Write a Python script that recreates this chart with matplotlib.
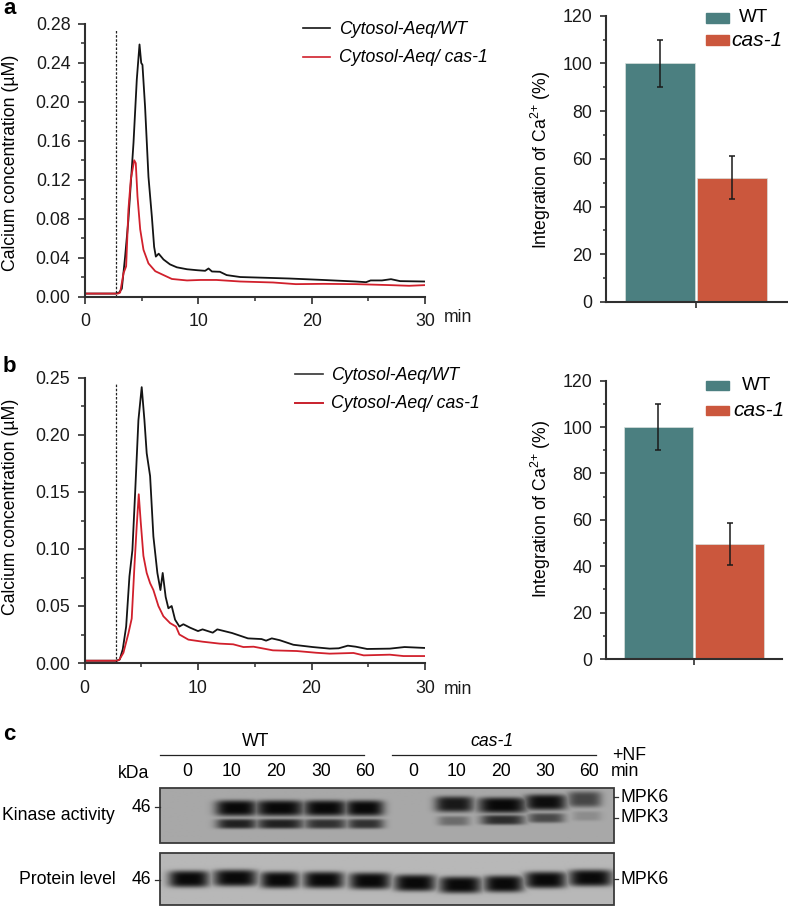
import numpy as np
import matplotlib
matplotlib.use("Agg")
import matplotlib.pyplot as plt
from matplotlib.patches import Rectangle

plt.rcParams["font.family"] = ["Liberation Sans", "DejaVu Sans"]
plt.rcParams["mathtext.fontset"] = "custom"
plt.rcParams["mathtext.rm"] = "Liberation Sans"
plt.rcParams["mathtext.it"] = "Liberation Sans:italic"
plt.rcParams["mathtext.default"] = "regular"

W, H = 788, 906
DARK = "#2f2f2f"
TEAL = "#4b7f80"
ORANGE = "#cb573d"
RED = "#d1202c"
BLACK = "#141414"

# panel a traces
a_wt_t = [0, 2.7, 3.0, 3.25, 3.54, 3.83, 4.28, 4.57, 4.81, 4.96, 5.07, 5.3, 5.6, 5.9, 6.1, 6.25, 6.5, 6.93,
          7.5, 8.1, 9.0, 9.9, 10.6, 10.9, 11.2, 11.9, 12.5, 13.7, 16.6, 18, 21, 23.9, 24.8, 25.2, 26.2, 27,
          27.8, 30]
a_wt_y = [.003, .003, .004, .008, .041, .079, .158, .223, .259, .24, .238, .195, .123, .082, .051, .041, .044, .038,
          .033, .030, .028, .027, .0264, .0288, .0257, .0254, .022, .020, .019, .0185, .017, .0154, .0147, .0165,
          .0165, .0178, .0158, .0154]
a_cas_t = [0, 2.9, 3.1, 3.4, 3.63, 3.83, 4.04, 4.34, 4.48, 4.63, 4.87, 5.16, 5.6, 6.2, 6.93, 7.67, 9, 10.2, 11.6,
           13.7, 16.6, 18.6, 21, 23.9, 26.9, 28.6, 30]
a_cas_y = [.003, .003, .004, .024, .031, .089, .12, .14, .137, .103, .069, .048, .034, .026, .022, .018, .0165, .017,
           .017, .0154, .0144, .0127, .013, .0127, .0117, .011, .0117]

# panel b traces
b_wt_t = [0, 2.8, 3.1, 3.37, 3.67, 3.96, 4.22, 4.46, 4.75, 5.04, 5.28, 5.48, 5.78, 6.07, 6.42, 6.69, 6.89, 7.15,
          7.39, 7.68, 7.98, 8.36, 8.71, 9.3, 10, 10.4, 11.3, 11.7, 13, 14.4, 15.6, 16, 16.5, 17.2, 18.4, 20.1,
          21.6, 22.4, 23.2, 23.9, 24.9, 26.9, 28.2, 30]
b_wt_y = [.002, .002, .003, .012, .032, .076, .099, .149, .213, .242, .213, .184, .164, .111, .079, .064, .079, .058,
          .048, .05, .038, .032, .034, .031, .028, .0295, .0266, .0295, .0263, .0216, .021, .0196, .0216, .02, .016,
          .014, .0126, .0129, .0152, .0143, .0123, .0126, .014, .0132]
b_cas_t = [0, 2.9, 3.08, 3.43, 3.87, 4.16, 4.4, 4.6, 4.78, 4.96, 5.19, 5.48, 5.78, 6.07, 6.51, 6.95, 7.54, 8.06,
           8.36, 9.15, 10.4, 11.9, 13.1, 14, 14.9, 16.6, 18.7, 20.4, 21.6, 23.7, 24.6, 26.9, 28.1, 30]
b_cas_y = [.002, .002, .003, .009, .026, .039, .085, .12, .148, .123, .094, .079, .07, .064, .05, .041, .035, .032,
           .025, .0205, .0187, .017, .0164, .014, .0143, .0111, .0105, .009, .0082, .0088, .0067, .0073, .0061, .0061]

# bar panels
bar_a = [100, 52]
err_a_lo = [90, 43]
err_a_hi = [110, 61]
bar_b = [100, 49.5]
err_b_lo = [90, 40.5]
err_b_hi = [110, 58.5]

# blot labels and band strengths
lanes = ["0", "10", "20", "30", "60", "0", "10", "20", "30", "60"]
lane_x = [187, 232, 276, 321, 365, 413, 457, 501, 545, 589]
upper_x = [(217, 255), (257, 302), (305, 345), (347, 382), (437, 472), (480, 525), (527, 565), (570, 600)]
upper_y = [808, 808, 808, 808, 804, 805, 802, 799]
upper_s = [1.0, 1.0, 1.0, 1.0, .9, 1.0, .97, .62]
lower_x = [(218, 255), (258, 302), (306, 345), (349, 382), (440, 468), (483, 523), (530, 563), (575, 600)]
lower_y = [824, 824, 824, 824, 821, 820, 818, 816]
lower_s = [.85, .85, .75, .75, .38, .78, .6, .18]
prot_x = [(170, 207), (215, 255), (262, 297), (305, 342), (351, 389), (396, 434), (441, 480), (486, 522), (527, 565),
          (571, 611)]
prot_y = [879, 878, 880, 880, 881, 883, 885, 884, 880, 878]
prot_s = [1, 1, 1, 1, 1, 1, 1, 1, 1, 1]


def px_axes(fig, left, top, right, bottom):
    return fig.add_axes([left / W, 1 - bottom / H, (right - left) / W, (bottom - top) / H])


def style(ax, major_len):
    ax.spines["top"].set_visible(False)
    ax.spines["right"].set_visible(False)
    for side in ["left", "bottom"]:
        ax.spines[side].set_linewidth(1.5)
        ax.spines[side].set_color(DARK)
        ax.spines[side].set_clip_on(False)
    ax.tick_params(which="major", length=major_len, width=1.2, color=DARK, labelsize=12.8, labelcolor="#1a1a1a",
                   pad=5.5)
    ax.tick_params(which="minor", length=major_len * 0.6, width=1.1, color=DARK)
    ax.patch.set_alpha(0)


def trace_panel(ax, wt, cas, ymax, major, minor, fmt, dash_top):
    ax.plot(wt[0], wt[1], color=BLACK, lw=1.3)
    ax.plot(cas[0], cas[1], color=RED, lw=1.3)
    ax.vlines(2.75, 0, dash_top, color="#222222", lw=0.9, linestyles=(0, (2, 1.3)))
    ax.set_xlim(0, 30)
    ax.set_ylim(0, ymax)
    ax.set_xticks([0, 10, 20, 30])
    ax.set_xticks([5, 15, 25], minor=True)
    ax.set_xticklabels(["0", "10", "20", "30"])
    ax.set_yticks(major)
    ax.set_yticks(minor, minor=True)
    ax.set_yticklabels([fmt % v for v in major])
    style(ax, 5)
    ax.tick_params(axis="x", which="major", pad=7)


def bar_panel(ax, vals, lo, hi, xlim):
    ax.bar([0, 1], vals, width=0.985, color=[TEAL, ORANGE], edgecolor="#d8e0dc", linewidth=0.5)
    for i in range(2):
        ax.errorbar(i, vals[i], yerr=[[vals[i] - lo[i]], [hi[i] - vals[i]]], color="#1a1a1a", lw=1.1,
                    capsize=2.2, capthick=1.1)
    ax.set_xlim(*xlim)
    ax.set_ylim(0, 120)
    ax.set_yticks(range(0, 121, 20))
    ax.set_yticks(range(10, 120, 20), minor=True)
    ax.set_xticks([0.5])
    ax.set_xticklabels([""])
    style(ax, 4)


def blot(box, base, bands):
    left, top, right, bottom = box
    xx, yy = np.meshgrid(np.arange(left, right + 1), np.arange(top, bottom + 1))
    dark = np.zeros(xx.shape)
    for (x0, x1), yc, s, half_h in bands:
        cx = (x0 + x1) / 2
        wx = (x1 - x0) / 2 + 2
        d = np.abs((xx - cx) / wx) ** 4 + np.abs((yy - yc) / half_h) ** 4
        dark = np.maximum(dark, s * np.exp(-d))
    return base * (1 - 0.95 * dark)


fig = plt.figure(figsize=(W / 100, H / 100), dpi=100)

ax_a = px_axes(fig, 85, 24, 425, 296.5)
trace_panel(ax_a, (a_wt_t, a_wt_y), (a_cas_t, a_cas_y), 0.28, [0, .04, .08, .12, .16, .20, .24, .28],
            [.02, .06, .10, .14, .18, .22, .26], "%.2f", 0.274)

ax_b = px_axes(fig, 84.5, 378, 425, 663)
trace_panel(ax_b, (b_wt_t, b_wt_y), (b_cas_t, b_cas_y), 0.25, [0, .05, .10, .15, .20, .25],
            [.025, .075, .125, .175, .225], "%.2f", 0.246)

ax_c = px_axes(fig, 605.5, 15.7, 787, 302)
bar_panel(ax_c, bar_a, err_a_lo, err_a_hi, (-0.757, 1.764))

ax_d = px_axes(fig, 605.5, 380.7, 782, 659)
bar_panel(ax_d, bar_b, err_b_lo, err_b_hi, (-0.746, 1.739))

# overlay in pixel coordinates for labels, legends and blots
ov = fig.add_axes([0, 0, 1, 1])
ov.set_xlim(0, W)
ov.set_ylim(H, 0)
ov.axis("off")
ov.set_zorder(5)

FS = 12.7
for label, y in [("a", 9), ("b", 366), ("c", 734)]:
    ov.text(3, y, label, fontsize=16, fontweight="bold", va="center", ha="left", color="black")

ov.text(11, 163, "Calcium concentration (\u00b5M)", rotation=90, fontsize=FS, ha="center", va="center")
ov.text(11, 507, "Calcium concentration (\u00b5M)", rotation=90, fontsize=FS, ha="center", va="center")
ov.text(541, 160, "Integration of Ca$^{2{+}}$ (%)", rotation=90, fontsize=FS, ha="center", va="center")
ov.text(541, 509, "Integration of Ca$^{2{+}}$ (%)", rotation=90, fontsize=FS, ha="center", va="center")
ov.text(444, 318, "min", fontsize=FS, ha="left", va="center", color="#1a1a1a")
ov.text(444, 689, "min", fontsize=FS, ha="left", va="center", color="#1a1a1a")

# trace legends
ov.plot([303, 330], [28, 28], color=BLACK, lw=1.2)
ov.plot([303, 330], [57, 57], color=RED, lw=1.2)
ov.text(339, 29, "Cytosol-Aeq/WT", fontsize=FS, style="italic", va="center")
ov.text(339, 58, "Cytosol-Aeq/ cas-1", fontsize=FS, style="italic", va="center")
ov.plot([295, 323], [374, 374], color="#333333", lw=1.2)
ov.plot([295, 323], [403, 403], color="#c8202c", lw=1.4)
ov.text(331, 375, "Cytosol-Aeq/WT", fontsize=FS, style="italic", va="center")
ov.text(331, 404, "Cytosol-Aeq/ cas-1", fontsize=FS, style="italic", va="center")

# bar legends
ov.add_patch(Rectangle((706, 13), 23, 10, color=TEAL))
ov.add_patch(Rectangle((706, 35), 23, 10, color=ORANGE))
ov.text(739, 18, "WT", fontsize=13.6, va="center")
ov.text(731, 41, "cas-1", fontsize=15, style="italic", va="center")
ov.add_patch(Rectangle((706, 381), 23, 9, color=TEAL))
ov.add_patch(Rectangle((706, 406), 23, 9, color=ORANGE))
ov.text(742, 386, "WT", fontsize=13.6, va="center")
ov.text(733, 411, "cas-1", fontsize=15, style="italic", va="center")

# panel c headers
ov.text(256, 742, "WT", fontsize=FS, ha="center", va="center")
ov.text(492, 742, "cas-1", fontsize=FS, style="italic", ha="center", va="center")
ov.plot([160, 364], [755, 755], color="#222222", lw=0.9)
ov.plot([392, 596], [755, 755], color="#222222", lw=0.9)
ov.text(612, 755, "+NF", fontsize=FS, va="center")
ov.text(611, 772, "min", fontsize=FS, va="center")
ov.text(118, 773, "kDa", fontsize=FS, va="center")
for x, label in zip(lane_x, lanes):
    ov.text(x, 772, label, fontsize=FS, ha="center", va="center")

# blots are built from the band lists above
box1 = (160, 788, 614, 843)
bands1 = [(x, y, s, 8) for x, y, s in zip(upper_x, upper_y, upper_s)]
bands1 += [(x, y, s, 5) for x, y, s in zip(lower_x, lower_y, lower_s)]
img1 = blot(box1, 0.66, bands1)
box2 = (160, 853, 614, 905)
bands2 = [(x, y, s, 8.5) for x, y, s in zip(prot_x, prot_y, prot_s)]
img2 = blot(box2, 0.72, bands2)
for box, img in [(box1, img1), (box2, img2)]:
    ov.imshow(img, cmap="gray", vmin=0, vmax=1, extent=(box[0], box[2], box[3], box[1]), aspect="auto",
              interpolation="bilinear")
    ov.add_patch(Rectangle((box[0], box[1]), box[2] - box[0], box[3] - box[1], fill=False, ec="#3a3a3a", lw=1.3))
ov.set_xlim(0, W)
ov.set_ylim(H, 0)

ov.text(2, 815, "Kinase activity", fontsize=FS, va="center")
ov.text(19, 879, "Protein level", fontsize=FS, va="center")
ov.text(151, 807, "46", fontsize=FS, ha="right", va="center")
ov.text(151, 880, "46", fontsize=FS, ha="right", va="center")
ov.plot([155, 160], [807, 807], color=DARK, lw=0.9)
ov.plot([155, 160], [880, 880], color=DARK, lw=0.9)
for y, label in [(797, "MPK6"), (818, "MPK3"), (879, "MPK6")]:
    ov.plot([614, 618], [y, y], color=DARK, lw=0.9)
    ov.text(621, y, label, fontsize=FS, va="center")

fig.savefig("out.png", dpi=100)
